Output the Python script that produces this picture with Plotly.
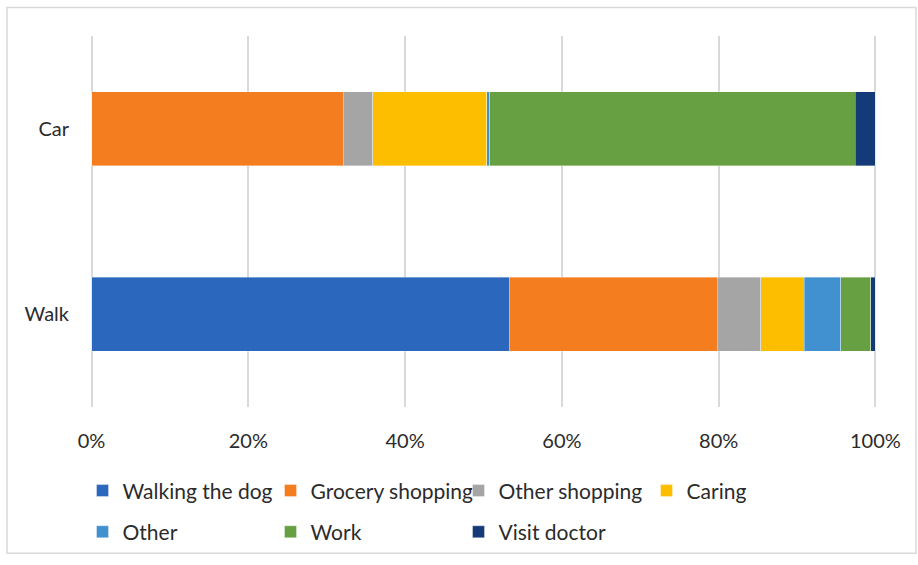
import plotly.graph_objects as go

# Share of trips by purpose, per travel mode (percent)
modes = ["Walk", "Car"]
purposes = ["Walking the dog", "Grocery shopping", "Other shopping", "Caring",
            "Other", "Work", "Visit doctor"]
walk_share = [53.3, 26.5, 5.6, 5.5, 4.7, 3.8, 0.6]
car_share = [0.0, 32.1, 3.8, 14.5, 0.4, 46.6, 2.6]
colors = ["#2B67BD", "#F47D20", "#A5A5A5", "#FEBE00", "#4190CF", "#67A043", "#143B78"]
x_ticks = [0, 20, 40, 60, 80, 100]

FONT = "Lato, Carlito, Calibri, sans-serif"
TEXT = "#2B2B2B"

fig = go.Figure()
for i, name in enumerate(purposes):
    fig.add_trace(go.Bar(
        y=modes,
        x=[walk_share[i], car_share[i]],
        name=name,
        orientation="h",
        marker=dict(color=colors[i], line=dict(color="rgba(255,255,255,0.45)", width=0.8)),
        legend="legend" if i < 4 else "legend2",
        hoverinfo="name+x",
    ))

legend_common = dict(
    orientation="h",
    xanchor="left",
    yanchor="top",
    entrywidth=143,
    entrywidthmode="pixels",
    font=dict(family=FONT, size=21, color=TEXT),
    bgcolor="rgba(0,0,0,0)",
    traceorder="normal",
)

L, R, T, B = 90, 41, 36, 151
PW, PH = 918 - L - R, 565 - T - B

fig.update_layout(
    width=918,
    height=565,
    margin=dict(l=L, r=R, t=T, b=B),
    paper_bgcolor="white",
    plot_bgcolor="white",
    barmode="stack",
    bargap=0.6,
    font=dict(family=FONT, size=20, color=TEXT),
    showlegend=True,
    legend=dict(x=-0.0095, y=-0.171, **legend_common),
    legend2=dict(x=-0.0095, y=-0.282, **legend_common),
    xaxis=dict(
        range=[-0.2, 100.2],
        tickvals=x_ticks,
        ticktext=[f"{v}%" for v in x_ticks],
        showgrid=True,
        gridcolor="#D9D9D9",
        gridwidth=1.5,
        zeroline=False,
        showline=False,
        ticks="outside",
        ticklen=16,
        tickcolor="rgba(0,0,0,0)",
        tickfont=dict(family=FONT, size=20, color=TEXT),
        fixedrange=True,
    ),
    yaxis=dict(
        categoryorder="array",
        categoryarray=modes,
        showgrid=False,
        zeroline=False,
        showline=False,
        ticks="outside",
        ticklen=16,
        tickcolor="rgba(0,0,0,0)",
        tickfont=dict(family=FONT, size=20, color=TEXT),
        fixedrange=True,
    ),
    shapes=[dict(
        type="rect", xref="paper", yref="paper",
        x0=(7 - L) / PW, x1=(916 - L) / PW,
        y0=((565 - B) - 563) / PH, y1=((565 - B) - 7) / PH,
        line=dict(color="#D9D9D9", width=1.5),
        fillcolor="rgba(0,0,0,0)",
        layer="below",
    )],
)

fig.write_html("out.html")
